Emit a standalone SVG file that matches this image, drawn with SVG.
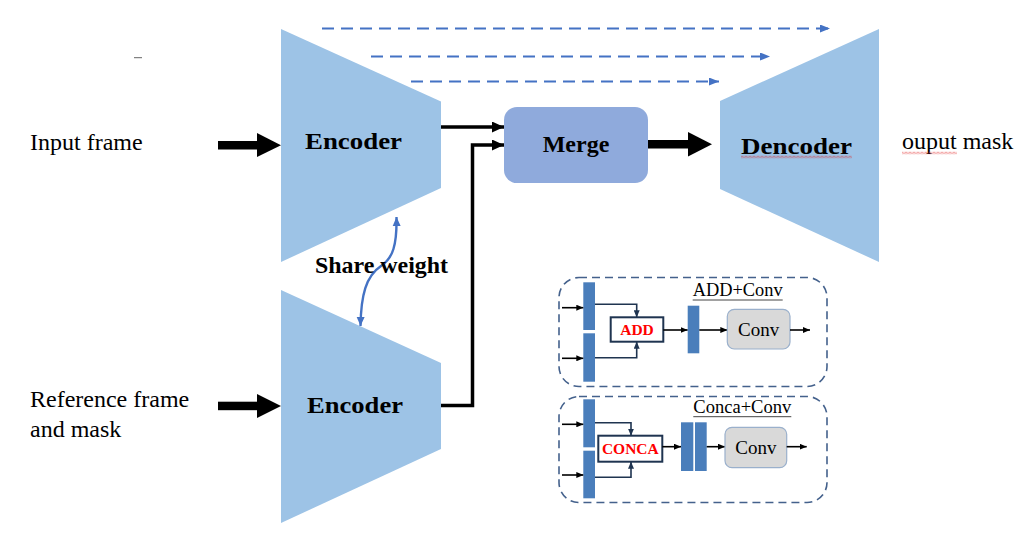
<svg xmlns="http://www.w3.org/2000/svg" width="1034" height="536" viewBox="0 0 1034 536">
<style>
.trap{fill:#9DC3E6}
.lbl{font-family:"Liberation Serif","Times New Roman",serif;font-size:24px;fill:#000}
.b{font-weight:bold}
.skip{stroke:#4472C4;stroke-width:2;stroke-dasharray:12 7;fill:none}
.blk{stroke:#000;stroke-width:3.5;fill:none}
.bar{fill:#4A7EBB}
.panel{fill:none;stroke:#44618C;stroke-width:1.6;stroke-dasharray:8 5}
.conv{fill:#D9D9D9;stroke:#9AB0CC;stroke-width:1.2}
.op{fill:#fff;stroke:#1F3450;stroke-width:2}
.thin{stroke:#1F3450;stroke-width:1.6;fill:none}
.pin{stroke:#000;stroke-width:1.6;fill:none}
.opt{font-family:"Liberation Serif","Times New Roman",serif;font-weight:bold;font-size:15.5px;fill:#FF0000}
.small{font-family:"Liberation Serif","Times New Roman",serif;font-size:18px;fill:#000}
.cv{font-family:"Liberation Serif","Times New Roman",serif;font-size:19px;fill:#000}
</style>
<defs>
<marker id="ab" markerUnits="userSpaceOnUse" markerWidth="10" markerHeight="8" refX="10" refY="4" orient="auto"><path d="M0,0 L10,4 L0,8 z" fill="#4472C4"/></marker>
<marker id="aw" markerUnits="userSpaceOnUse" markerWidth="9" markerHeight="9" refX="9" refY="4.5" orient="auto-start-reverse"><path d="M0,0.5 L9,4.5 L0,8.5 z" fill="#4472C4"/></marker>
<marker id="ak" markerUnits="userSpaceOnUse" markerWidth="12" markerHeight="11" refX="12" refY="5.5" orient="auto"><path d="M0,0 L12,5.5 L0,11 z" fill="#000"/></marker>
<marker id="as" markerUnits="userSpaceOnUse" markerWidth="7" markerHeight="6" refX="7" refY="3" orient="auto"><path d="M0,0 L7,3 L0,6 z" fill="#000"/></marker>
<marker id="an" markerUnits="userSpaceOnUse" markerWidth="7" markerHeight="6" refX="7" refY="3" orient="auto"><path d="M0,0 L7,3 L0,6 z" fill="#1F3450"/></marker>
<pattern id="wv1" patternUnits="userSpaceOnUse" x="0" y="155.5" width="4" height="3"><path d="M0,2.5 L2,0.5 L4,2.5" stroke="#E02020" stroke-width="0.8" fill="none"/></pattern>
<pattern id="wv2" patternUnits="userSpaceOnUse" x="0" y="151.5" width="4" height="3"><path d="M0,2.5 L2,0.5 L4,2.5" stroke="#E02020" stroke-width="0.8" fill="none"/></pattern>
</defs>

<line x1="134" y1="57.7" x2="142" y2="57.7" stroke="#666" stroke-width="1"/>

<g id="encoder-top">
<polygon class="trap" points="281,29 441,101.5 441,188 281,262"/>
<text class="lbl b" x="305" y="149" font-size="26.7" textLength="97" lengthAdjust="spacingAndGlyphs">Encoder</text>
</g>
<g id="encoder-bottom">
<polygon class="trap" points="281,290 441,363 441,449 281,523"/>
<text class="lbl b" x="307" y="413" font-size="26.7" textLength="96" lengthAdjust="spacingAndGlyphs">Encoder</text>
</g>
<g id="decoder">
<polygon class="trap" points="720,101 879,29 879,262 720,189"/>
<text class="lbl b" x="741" y="154" font-size="28.5" textLength="111" lengthAdjust="spacingAndGlyphs">Dencoder</text>
<rect x="741" y="155.5" width="111" height="3" fill="url(#wv1)"/>
</g>
<g id="merge">
<rect x="504" y="107" width="144" height="76" rx="13" fill="#8FAADC"/>
<text class="lbl b" x="576" y="152" font-size="27.5" text-anchor="middle">Merge</text>
</g>
<g id="input-frame"><text class="lbl" x="30" y="150">Input frame</text></g>
<g id="reference"><text class="lbl" x="30" y="407">Reference frame</text><text class="lbl" x="30" y="437">and mask</text></g>
<g id="output"><text class="lbl" x="902" y="149">ouput mask</text><rect x="902" y="151.5" width="55" height="3" fill="url(#wv2)"/></g>

<g id="connectors">
<path class="skip" d="M322,28.5 H830" marker-end="url(#ab)"/>
<path class="skip" d="M371,56.5 H770" marker-end="url(#ab)"/>
<path class="skip" d="M411,81.5 H719" marker-end="url(#ab)"/>
<path class="blk" d="M441,127 H504" marker-end="url(#ak)"/>
<path class="blk" d="M441,405.5 H472.5 V145 H504" marker-end="url(#ak)"/>
<rect x="218" y="141" width="40" height="8.5" fill="#000"/>
<polygon points="257,133 281,145.2 257,157" fill="#000"/>
<rect x="218" y="401.7" width="40" height="8.5" fill="#000"/>
<polygon points="257,394 281,406 257,418" fill="#000"/>
<rect x="648" y="140" width="42" height="8.5" fill="#000"/>
<polygon points="688,132 712,144.2 688,156.5" fill="#000"/>
<path d="M396.5,217 C397,245 393,258 381,266 C366,276 361,295 360.5,326" stroke="#4472C4" stroke-width="2.4" fill="none" marker-start="url(#aw)" marker-end="url(#aw)"/>
</g>
<g id="share-weight"><text class="lbl b" x="315" y="273" textLength="133" lengthAdjust="spacingAndGlyphs">Share weight</text></g>

<g id="add-conv">
<rect class="panel" x="559" y="277.5" width="268" height="109" rx="20"/>
<text class="small" x="692.7" y="296" textLength="90" lengthAdjust="spacingAndGlyphs">ADD+Conv</text>
<line x1="692.7" y1="300" x2="782.7" y2="300" stroke="#444" stroke-width="1"/>
<rect class="bar" x="583.3" y="282.3" width="11.7" height="47.7"/>
<rect class="bar" x="583.3" y="333.3" width="11.7" height="48.4"/>
<path class="pin" d="M562,307.7 H583.3" marker-end="url(#as)"/>
<path class="pin" d="M562,358.3 H583.3" marker-end="url(#as)"/>
<path class="thin" d="M595,304.3 H636.7 V317.3" marker-end="url(#an)"/>
<path class="thin" d="M595,357.7 H636.7 V341.7" marker-end="url(#an)"/>
<rect class="op" x="610.7" y="317.3" width="52.6" height="24.4"/>
<text class="opt" x="637" y="335" text-anchor="middle">ADD</text>
<path class="pin" d="M663.3,330 H687.7" marker-end="url(#as)"/>
<rect class="bar" x="687.7" y="305.7" width="11.6" height="47.6"/>
<path class="pin" d="M699.3,330 H727.3" marker-end="url(#as)"/>
<rect class="conv" x="727.3" y="309.3" width="62.7" height="39.7" rx="7"/>
<text class="cv" x="758.7" y="336" text-anchor="middle">Conv</text>
<path class="pin" d="M790,330 H810" marker-end="url(#as)"/>
</g>

<g id="conca-conv">
<rect class="panel" x="559" y="396.5" width="268" height="106" rx="20"/>
<text class="small" x="693.3" y="412.7" textLength="98" lengthAdjust="spacingAndGlyphs">Conca+Conv</text>
<line x1="693.3" y1="416.7" x2="791.3" y2="416.7" stroke="#444" stroke-width="1"/>
<rect class="bar" x="583.3" y="399.3" width="11.7" height="48"/>
<rect class="bar" x="583.3" y="450.7" width="11.7" height="47.6"/>
<path class="pin" d="M562,424.3 H583.3" marker-end="url(#as)"/>
<path class="pin" d="M562,475 H583.3" marker-end="url(#as)"/>
<path class="thin" d="M595,422.7 H631 V435.7" marker-end="url(#an)"/>
<path class="thin" d="M595,477.3 H631 V461.7" marker-end="url(#an)"/>
<rect class="op" x="598.3" y="435.7" width="64" height="26"/>
<text class="opt" x="630.3" y="454.3" text-anchor="middle">CONCA</text>
<path class="pin" d="M662.3,446.7 H681" marker-end="url(#as)"/>
<rect class="bar" x="681" y="422.3" width="12.3" height="48.7"/>
<rect class="bar" x="695" y="422.3" width="11.7" height="48.7"/>
<path class="pin" d="M706.7,446.7 H725" marker-end="url(#as)"/>
<rect class="conv" x="725" y="427.3" width="61.7" height="40.4" rx="7"/>
<text class="cv" x="755.8" y="453.5" text-anchor="middle">Conv</text>
<path class="pin" d="M786.7,446.7 H806.7" marker-end="url(#as)"/>
</g>
</svg>
